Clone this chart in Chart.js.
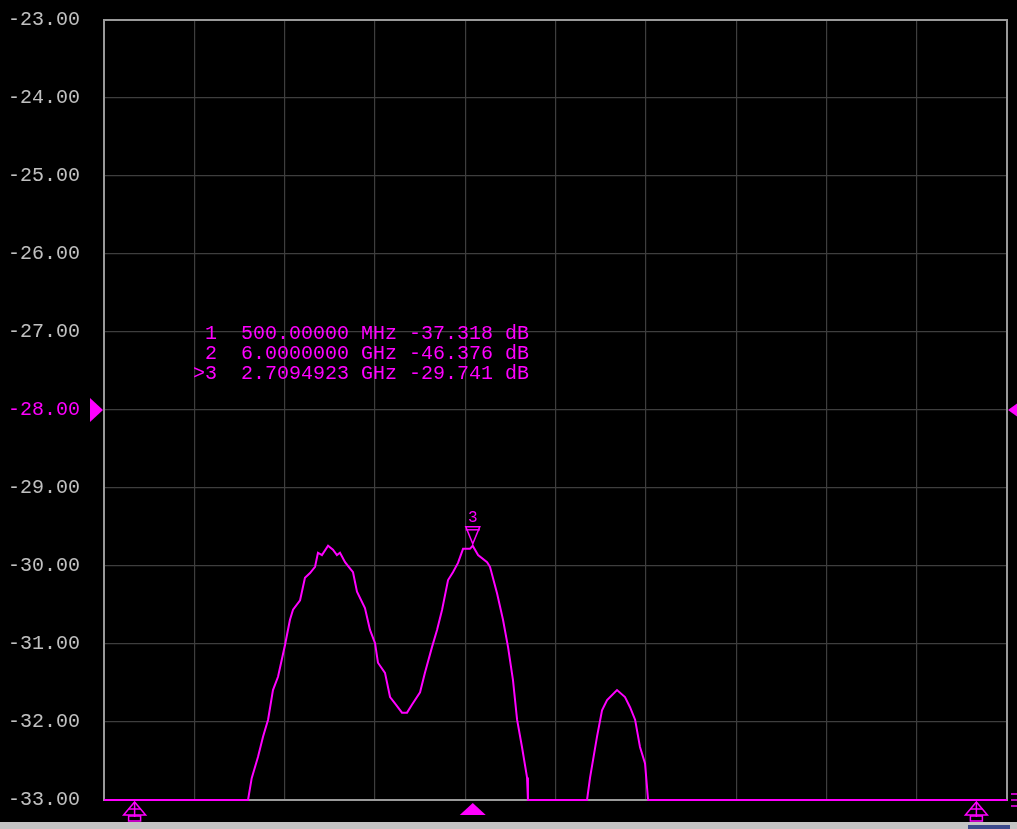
<!DOCTYPE html>
<html>
<head>
<meta charset="utf-8">
<script src="https://cdn.jsdelivr.net/npm/chart.js@4"></script>
<style>
  html, body { margin: 0; padding: 0; background: #000; }
  #wrap { width: 1017px; height: 829px; position: relative; }
</style>
</head>
<body>
<div id="wrap"><canvas id="trace" width="1017" height="829"></canvas></div>
<script>
// sweep 0.3 - 6.2 GHz, 10 div; scale -33 .. -23 dB, 1 dB/div
var freqGHz = [0.3, 1.241, 1.265, 1.306, 1.339, 1.372, 1.404, 1.437, 1.483, 1.515, 1.535, 1.581, 1.613, 1.646, 1.679, 1.698, 1.724, 1.764, 1.796, 1.822, 1.842, 1.875, 1.907, 1.927, 1.953, 2.005, 2.038, 2.071, 2.090, 2.136, 2.169, 2.201, 2.247, 2.280, 2.312, 2.365, 2.397, 2.443, 2.476, 2.509, 2.548, 2.580, 2.613, 2.646, 2.691, 2.709, 2.744, 2.803, 2.822, 2.868, 2.907, 2.940, 2.972, 2.999, 3.031, 3.064, 3.070, 3.456, 3.476, 3.521, 3.554, 3.587, 3.652, 3.704, 3.737, 3.770, 3.802, 3.835, 3.855, 6.2];
var magDB = [-33, -33, -32.72, -32.45, -32.19, -31.97, -31.59, -31.42, -31.01, -30.69, -30.56, -30.44, -30.15, -30.09, -30.01, -29.83, -29.86, -29.74, -29.79, -29.86, -29.83, -29.95, -30.03, -30.08, -30.33, -30.54, -30.82, -30.99, -31.24, -31.37, -31.68, -31.76, -31.88, -31.88, -31.78, -31.62, -31.37, -31.04, -30.82, -30.56, -30.18, -30.08, -29.96, -29.78, -29.78, -29.741, -29.86, -29.95, -30.01, -30.35, -30.69, -31.04, -31.46, -31.97, -32.32, -32.71, -33, -33, -32.71, -32.19, -31.85, -31.72, -31.59, -31.68, -31.81, -31.97, -32.32, -32.53, -33, -33];

var markerNames = [" 1", " 2", ">3"];
var markerFreq = [0.5, 6.0, 2.7094923];
var markerFreqText = ["500.00000 MHz", "6.0000000 GHz", "2.7094923 GHz"];
var markerVal = [-37.318, -46.376, -29.741];
var activeMarker = 2;

var refLevel = -28;
var yMin = -33, yMax = -23;
var xStart = 0.3, xStop = 6.2;

var magenta = "#ff00ff";
var monoFont = "'Liberation Mono', 'DejaVu Sans Mono', monospace";

function tri(ctx, pts, fill) {
    ctx.beginPath();
    ctx.moveTo(pts[0][0], pts[0][1]);
    ctx.lineTo(pts[1][0], pts[1][1]);
    ctx.lineTo(pts[2][0], pts[2][1]);
    ctx.closePath();
    if (fill) ctx.fill(); else ctx.stroke();
}

var framePlugin = {
    id: "frame",
    beforeDatasetsDraw: function(chart) {
        const ctx = chart.ctx, a = chart.chartArea;
        ctx.save();
        ctx.strokeStyle = "#9a9a9a";
        ctx.lineWidth = 2;
        ctx.strokeRect(a.left, a.top, a.right - a.left, a.bottom - a.top);
        ctx.restore();
    }
};

var markerPlugin = {
    id: "markers",
    afterDatasetsDraw: function(chart) {
        const ctx = chart.ctx, a = chart.chartArea;
        const xs = chart.scales.x, ys = chart.scales.y;
        ctx.save();
        ctx.fillStyle = magenta;
        ctx.strokeStyle = magenta;
        ctx.lineWidth = 1.5;

        // reference level arrows
        const ry = ys.getPixelForValue(refLevel);
        tri(ctx, [[a.left - 14, ry - 12], [a.left - 1, ry], [a.left - 14, ry + 12]], true);
        tri(ctx, [[a.right + 12, ry - 8], [a.right + 1, ry], [a.right + 12, ry + 8]], true);

        // markers below the grid
        for (let i = 0; i < markerFreq.length; i++) {
            const mx = xs.getPixelForValue(markerFreq[i]);
            if (i === activeMarker) {
                tri(ctx, [[mx - 13, a.bottom + 15], [mx, a.bottom + 3], [mx + 13, a.bottom + 15]], true);
                // marker on trace
                const my = ys.getPixelForValue(markerVal[i]);
                tri(ctx, [[mx - 7, my - 19], [mx, my - 2], [mx + 7, my - 19]], false);
                ctx.beginPath();
                ctx.moveTo(mx - 7, my - 16); ctx.lineTo(mx + 7, my - 16);
                ctx.stroke();
                ctx.font = "16px " + monoFont;
                ctx.textAlign = "center";
                ctx.textBaseline = "bottom";
                ctx.fillText(String(i + 1), mx, my - 20);
            } else {
                tri(ctx, [[mx - 11, a.bottom + 15], [mx, a.bottom + 2], [mx + 11, a.bottom + 15]], false);
                ctx.beginPath();
                ctx.moveTo(mx, a.bottom + 2); ctx.lineTo(mx, a.bottom + 17);
                ctx.moveTo(mx - 6, a.bottom + 9); ctx.lineTo(mx + 6, a.bottom + 9);
                ctx.stroke();
                ctx.strokeRect(mx - 6, a.bottom + 16, 12, 5);
            }
        }

        // right-edge indicator
        ctx.beginPath();
        ctx.moveTo(a.right + 4, a.bottom - 6); ctx.lineTo(a.right + 10, a.bottom - 6);
        ctx.moveTo(a.right + 4, a.bottom); ctx.lineTo(a.right + 10, a.bottom);
        ctx.moveTo(a.right + 4, a.bottom + 6); ctx.lineTo(a.right + 10, a.bottom + 6);
        ctx.stroke();

        // marker readout
        ctx.font = "20px " + monoFont;
        ctx.textAlign = "left";
        ctx.textBaseline = "middle";
        for (let i = 0; i < markerNames.length; i++) {
            const line = markerNames[i] + "  " + markerFreqText[i] + " " + markerVal[i].toFixed(3) + " dB";
            ctx.fillText(line, 193, 334 + i * 20);
        }

        // window status strip at the bottom
        ctx.fillStyle = "#c4c4c4";
        ctx.fillRect(0, 822, chart.width, 7);
        ctx.fillStyle = "#3c4a8c";
        ctx.fillRect(968, 825, 42, 4);
        ctx.restore();
    }
};

function drawChart() {
    const points = freqGHz.map(function(f, i) { return {x: f, y: magDB[i]}; });

    new Chart(document.getElementById("trace"), {
        type: "line",
        data: {
            datasets: [{
                label: "S21",
                data: points,
                borderColor: magenta,
                borderWidth: 2,
                pointRadius: 0,
                tension: 0,
                fill: false,
                clip: 3
            }]
        },
        options: {
            responsive: false,
            animation: false,
            devicePixelRatio: 1,
            layout: { padding: { top: 20, right: 10, bottom: 29, left: 0 } },
            plugins: { legend: { display: false }, tooltip: { enabled: false } },
            scales: {
                x: {
                    type: "linear",
                    min: xStart,
                    max: xStop,
                    afterBuildTicks: function(scale) {
                        const t = [];
                        for (let i = 0; i <= 10; i++) t.push({value: xStart + i * (xStop - xStart) / 10});
                        scale.ticks = t;
                    },
                    ticks: { display: false },
                    grid: { color: "#3e3e3e", lineWidth: 1.2, drawTicks: false },
                    border: { display: false },
                    afterFit: function(scale) { scale.height = 0; scale.paddingLeft = 0; scale.paddingRight = 0; }
                },
                y: {
                    min: yMin,
                    max: yMax,
                    ticks: {
                        stepSize: 1,
                        padding: 24,
                        color: function(c) { return c.tick && c.tick.value === refLevel ? magenta : "#c0c0c0"; },
                        font: { family: monoFont, size: 20 },
                        callback: function(v) { return v.toFixed(2); }
                    },
                    grid: { color: "#3e3e3e", lineWidth: 1.2, drawTicks: false },
                    border: { display: false },
                    afterFit: function(scale) { scale.width = 104; scale.paddingTop = 0; scale.paddingBottom = 0; }
                }
            }
        },
        plugins: [framePlugin, markerPlugin]
    });
}

drawChart();
</script>
</body>
</html>
